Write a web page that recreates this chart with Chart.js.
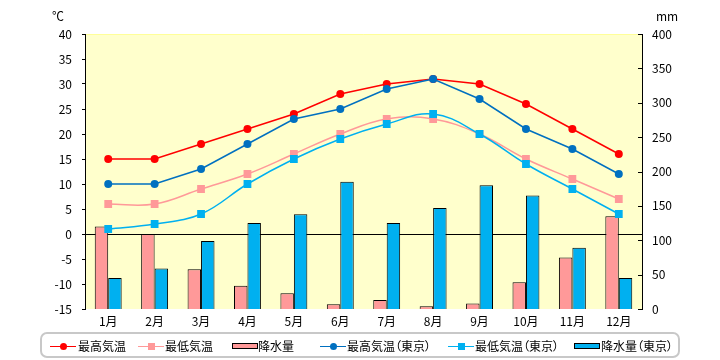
<!DOCTYPE html>
<html>
<head>
<meta charset="utf-8">
<script src="https://cdn.jsdelivr.net/npm/chart.js@4/dist/chart.umd.min.js"></script>
<style>
  html, body { margin: 0; padding: 0; background: #fff; }
  #wrap { position: relative; width: 720px; height: 360px; font-family: "Noto Sans CJK JP", "Noto Sans", sans-serif; }
  canvas { position: absolute; left: 0; top: 0; }
  .unit { position: absolute; font-size: 12px; color: #000; line-height: 12px; }
  #legend { position: absolute; left: 40px; top: 332px; width: 640px; height: 26px; box-sizing: border-box;
            border: 2px solid #C8C8C8; border-radius: 7px; }
  .lg-line { position: absolute; height: 0; border-top: 1.5px solid; }
  .lg-dot { position: absolute; width: 7px; height: 7px; border-radius: 50%; }
  .lg-sq { position: absolute; width: 7px; height: 7px; }
  .lg-box { position: absolute; height: 4px; border: 1px solid #000; }
  .lg-text { position: absolute; font-size: 12px; line-height: 14px; color: #000; white-space: nowrap;
             font-feature-settings: "palt" 1; }
</style>
</head>
<body>
<div id="wrap">
  <canvas id="c" width="720" height="360"></canvas>
  <div class="unit" style="left:52px; top:10px;">℃</div>
  <div class="unit" style="left:656px; top:10px;">mm</div>
  <div id="legend"></div>
</div>
<script>
// ---- data ----
const months = ['1月','2月','3月','4月','5月','6月','7月','8月','9月','10月','11月','12月'];
const maxTemp = [15, 15, 18, 21, 24, 28, 30, 31, 30, 26, 21, 16];
const minTemp = [6, 6, 9, 12, 16, 20, 23, 23, 20, 15, 11, 7];
const precip = [120, 109, 58, 34, 23, 7, 13, 4, 8, 39, 75, 135];
const tokyoMax = [10, 10, 13, 18, 23, 25, 29, 31, 27, 21, 17, 12];
const tokyoMin = [1, 2, 4, 10, 15, 19, 22, 24, 20, 14, 9, 4];
const tokyoPrecip = [45, 59, 99, 125, 138, 185, 125, 147, 180, 165, 89, 45];
const seriesNames = ['最高気温', '最低気温', '降水量', '最高気温（東京）', '最低気温（東京）', '降水量（東京）'];

const RED = '#FF0000', PINK = '#FF9999', BLUE = '#0070C0', CYAN = '#00B0F0';
const FONT = { family: '"Noto Sans CJK JP", "Noto Sans", sans-serif', size: 12 };

const bgPlugin = {
  id: 'bg',
  beforeDraw(chart) {
    const { ctx, chartArea: a } = chart;
    ctx.save();
    ctx.fillStyle = '#FFFFCC';
    ctx.fillRect(a.left, a.top, a.right - a.left, a.bottom - a.top);
    ctx.strokeStyle = '#FFFF99';
    ctx.lineWidth = 1;
    ctx.beginPath();
    ctx.moveTo(a.left, a.top + 0.5);
    ctx.lineTo(a.right, a.top + 0.5);
    ctx.stroke();
    ctx.restore();
  },
  afterDraw(chart) {
    const { ctx, chartArea: a } = chart;
    const s = chart.scales.y1;
    ctx.save();
    ctx.strokeStyle = '#000';
    ctx.lineWidth = 1;
    s.ticks.forEach((t) => {
      const y = Math.round(s.getPixelForValue(t.value)) + 0.5;
      ctx.beginPath();
      ctx.moveTo(a.right - 4, y);
      ctx.lineTo(a.right, y);
      ctx.stroke();
    });
    ctx.restore();
  }
};

new Chart(document.getElementById('c'), {
  type: 'bar',
  data: {
    labels: months,
    datasets: [
      { type: 'line', label: seriesNames[0], data: maxTemp, yAxisID: 'y', order: 3,
        borderColor: RED, backgroundColor: RED, borderWidth: 1.5, tension: 0,
        pointStyle: 'circle', pointRadius: 4, pointBorderWidth: 0 },
      { type: 'line', label: seriesNames[1], data: minTemp, yAxisID: 'y', order: 2,
        borderColor: PINK, backgroundColor: PINK, borderWidth: 1.5, tension: 0.4,
        pointStyle: 'rect', pointRadius: 5.5, pointBorderWidth: 0 },
      { type: 'bar', label: seriesNames[2], data: precip, yAxisID: 'y1', order: 5,
        backgroundColor: PINK, borderColor: '#000', borderWidth: 1,
        categoryPercentage: 0.58, barPercentage: 1 },
      { type: 'line', label: seriesNames[3], data: tokyoMax, yAxisID: 'y', order: 1,
        borderColor: BLUE, backgroundColor: BLUE, borderWidth: 1.5, tension: 0,
        pointStyle: 'circle', pointRadius: 4, pointBorderWidth: 0 },
      { type: 'line', label: seriesNames[4], data: tokyoMin, yAxisID: 'y', order: 0,
        borderColor: CYAN, backgroundColor: CYAN, borderWidth: 1.5, tension: 0.4,
        pointStyle: 'rect', pointRadius: 5.5, pointBorderWidth: 0 },
      { type: 'bar', label: seriesNames[5], data: tokyoPrecip, yAxisID: 'y1', order: 5,
        backgroundColor: CYAN, borderColor: '#000', borderWidth: 1,
        categoryPercentage: 0.58, barPercentage: 1 }
    ]
  },
  options: {
    responsive: false,
    animation: false,
    devicePixelRatio: 1,
    layout: { padding: { top: 34, left: 0, right: 0, bottom: 0 } },
    plugins: { legend: { display: false }, tooltip: { enabled: false } },
    scales: {
      x: {
        grid: { display: false, drawTicks: false },
        border: { display: false },
        ticks: { color: '#000', font: FONT, padding: 5, maxRotation: 0 },
        afterFit(s) { s.height = 51; }
      },
      y: {
        position: 'left', min: -15, max: 40,
        ticks: { stepSize: 5, color: '#000', font: FONT, padding: 10 },
        grid: {
          drawTicks: true, tickLength: 3, tickColor: '#000',
          color: (c) => (c.tick && c.tick.value === 0 ? '#000' : 'rgba(0,0,0,0)'),
          lineWidth: 1
        },
        border: { display: true, color: '#000', width: 1 },
        afterFit(s) { s.width = 85; }
      },
      y1: {
        position: 'right', min: 0, max: 400,
        ticks: { stepSize: 50, color: '#000', font: FONT, padding: 10 },
        grid: { display: false, drawTicks: false, drawOnChartArea: false },
        border: { display: true, color: '#000', width: 1 },
        afterFit(s) { s.width = 78; }
      }
    }
  },
  plugins: [bgPlugin]
});

// ---- HTML legend ----
const legendItems = [
  { kind: 'line', marker: 'dot', color: RED, x: 50, tx: 78 },
  { kind: 'line', marker: 'sq', color: PINK, x: 138, tx: 165 },
  { kind: 'box', color: PINK, x: 232, tx: 258 },
  { kind: 'line', marker: 'dot', color: BLUE, x: 320, tx: 347 },
  { kind: 'line', marker: 'sq', color: CYAN, x: 448, tx: 475 },
  { kind: 'box', color: CYAN, x: 574, tx: 601 }
];
const wrap = document.getElementById('wrap');
const cy = 347;
legendItems.forEach((it, i) => {
  if (it.kind === 'line') {
    const l = document.createElement('div');
    l.className = 'lg-line';
    l.style.left = it.x + 'px'; l.style.width = '26px'; l.style.top = (cy - 1) + 'px';
    l.style.borderTopColor = it.color;
    wrap.appendChild(l);
    const m = document.createElement('div');
    m.className = it.marker === 'dot' ? 'lg-dot' : 'lg-sq';
    m.style.background = it.color;
    m.style.left = (it.x + 13 - 3.5) + 'px'; m.style.top = (cy - 4) + 'px';
    wrap.appendChild(m);
  } else {
    const b = document.createElement('div');
    b.className = 'lg-box';
    b.style.background = it.color;
    b.style.left = it.x + 'px'; b.style.width = '24px'; b.style.top = (cy - 4) + 'px';
    wrap.appendChild(b);
  }
  const t = document.createElement('div');
  t.className = 'lg-text';
  t.textContent = seriesNames[i];
  t.style.left = it.tx + 'px'; t.style.top = (cy - 8) + 'px';
  wrap.appendChild(t);
});
</script>
</body>
</html>
